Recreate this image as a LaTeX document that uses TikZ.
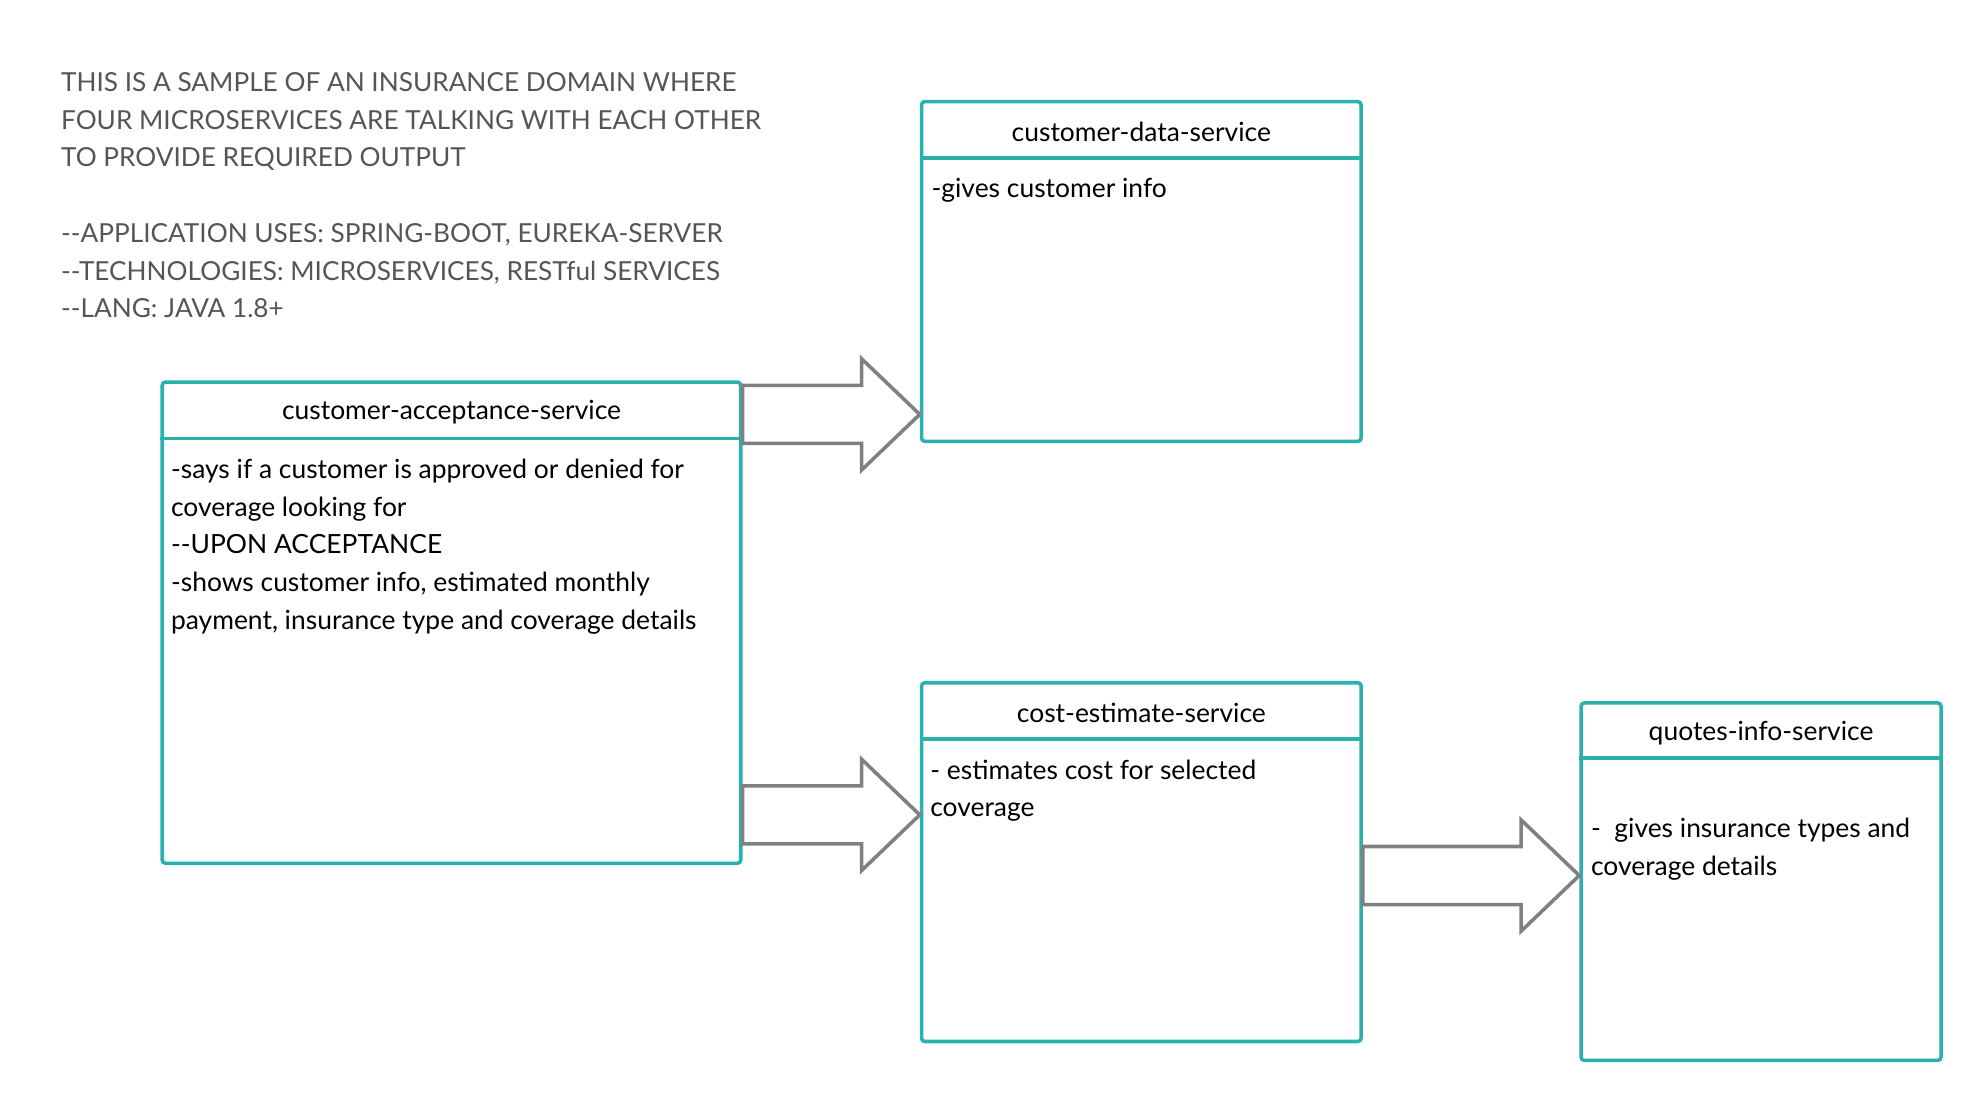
\documentclass[tikz,border=0pt]{standalone}
\usepackage{fontspec}
\setmainfont{Lato}
\usetikzlibrary{calc}
\definecolor{boxteal}{HTML}{2AB1AE}
\definecolor{notegray}{HTML}{555555}
\definecolor{arrowgray}{HTML}{808080}

\tikzset{
  svcbox/.style={draw=boxteal, line width=1.6pt, rounded corners=1.5pt, inner sep=0pt, anchor=north west},
  svcline/.style={draw=boxteal, line width=1.6pt},
  svctitle/.style={font=\fontsize{11.9}{17}\selectfont, inner sep=0pt},
  svctext/.style={font=\fontsize{11.9}{17}\selectfont, align=left, anchor=north west, inner sep=0pt},
  fatarrow/.style={draw=arrowgray, line width=1.6pt, fill=white, line join=miter},
}

% block arrow from a point on one box to a point on the next
\newcommand{\blockarrow}[2]{%
  \draw[fatarrow] ($(#1)+(0,-23)$) -- ($(#2)+(-46,-23)$) -- ($(#2)+(-46,-44)$) -- (#2)
    -- ($(#2)+(-46,44)$) -- ($(#2)+(-46,23)$) -- ($(#1)+(0,23)$) -- cycle;}

\begin{document}
\begin{tikzpicture}[x=0.02cm, y=-0.02cm]
  \useasboundingbox (0,0) rectangle (1568,871);

  \node[svctext, text=notegray, font=\fontsize{11.8}{17}\selectfont] (note) at (48,57) {THIS IS A SAMPLE OF AN INSURANCE DOMAIN WHERE\\
    FOUR MICROSERVICES ARE TALKING WITH EACH OTHER\\
    TO PROVIDE REQUIRED OUTPUT\\[17pt]
    -{}-APPLICATION USES: SPRING-BOOT, EUREKA-SERVER\\
    -{}-TECHNOLOGIES: MICROSERVICES, RESTful SERVICES\\
    -{}-LANG: JAVA 1.8+};

  % the four services
  \node[svcbox, minimum width=9.16cm, minimum height=7.62cm] (acc) at (127,301) {};
  \node[svcbox, minimum width=6.96cm, minimum height=5.38cm] (data) at (728,79) {};
  \node[svcbox, minimum width=6.96cm, minimum height=5.68cm] (cost) at (728,539) {};
  \node[svcbox, minimum width=5.70cm, minimum height=5.66cm] (quotes) at (1250,555) {};

  \draw[svcline] ($(acc.north west)+(0,46)$) -- ($(acc.north east)+(0,46)$);
  \draw[svcline] ($(data.north west)+(0,46)$) -- ($(data.north east)+(0,46)$);
  \draw[svcline] ($(cost.north west)+(0,46)$) -- ($(cost.north east)+(0,46)$);
  \draw[svcline] ($(quotes.north west)+(0,45)$) -- ($(quotes.north east)+(0,45)$);

  \node[svctitle] (acc-title) at ($(acc.north)+(0,25)$) {customer-acceptance-service};
  \node[svctitle] (data-title) at ($(data.north)+(0,25)$) {customer-data-service};
  \node[svctitle] (cost-title) at ($(cost.north)+(0,25)$) {cost-estimate-service};
  \node[svctitle] (quotes-title) at ($(quotes.north)+(0,25)$) {quotes-info-service};

  \node[svctext] (acc-text) at ($(acc.north west)+(8,62)$) {-says if a customer is approved or denied for\\
    coverage looking for\\
    -{}-UPON ACCEPTANCE\\
    -shows customer info, estimated monthly\\
    payment, insurance type and coverage details};
  \node[svctext] (data-text) at ($(data.north west)+(9,62)$) {-gives customer info};
  \node[svctext] (cost-text) at ($(cost.north west)+(8,62)$) {- estimates cost for selected\\
    coverage};
  \node[svctext] (quotes-text) at ($(quotes.north west)+(9,92)$) {-\ \ gives insurance types and\\
    coverage details};

  % calls between services
  \coordinate (acc-out1) at (acc.east |- 0,328);
  \coordinate (data-in) at (data.west |- 0,328);
  \coordinate (acc-out2) at (acc.east |- 0,645);
  \coordinate (cost-in) at (cost.west |- 0,645);
  \coordinate (cost-out) at (cost.east |- 0,693);
  \coordinate (quotes-in) at (quotes.west |- 0,693);
  \blockarrow{acc-out1}{data-in}
  \blockarrow{acc-out2}{cost-in}
  \blockarrow{cost-out}{quotes-in}
\end{tikzpicture}
\end{document}
